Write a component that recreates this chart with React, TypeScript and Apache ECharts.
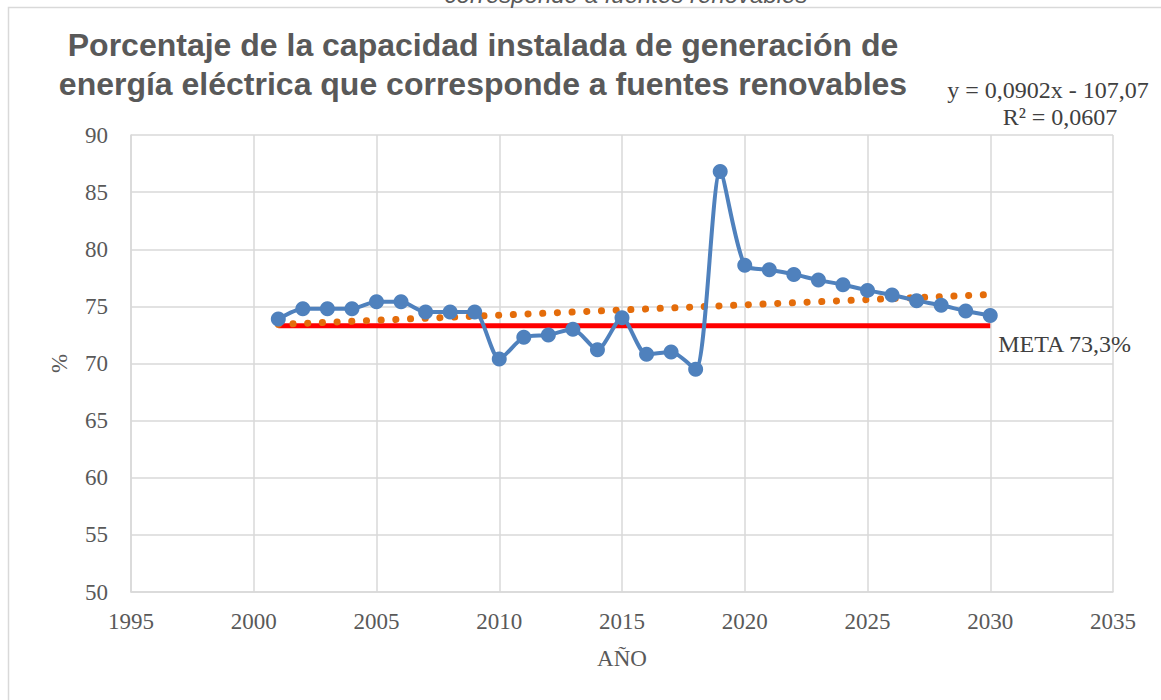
import React, { useEffect, useRef } from "react";
import * as echarts from "echarts";

const years = [2001, 2002, 2003, 2004, 2005, 2006, 2007, 2008, 2009, 2010, 2011, 2012, 2013, 2014, 2015, 2016, 2017, 2018, 2019, 2020, 2021, 2022, 2023, 2024, 2025, 2026, 2027, 2028, 2029, 2030];
const pct = [73.9, 74.8, 74.8, 74.8, 75.4, 75.4, 74.5, 74.5, 74.5, 70.4, 72.3, 72.5, 73.0, 71.2, 74.0, 70.8, 71.0, 69.5, 86.8, 78.6, 78.2, 77.8, 77.3, 76.9, 76.4, 76.0, 75.5, 75.1, 74.6, 74.2];
const trendYears = [2001, 2030];
const trendValues = [73.42, 76.04];
const metaYears = [2001, 2030];
const metaValue = 73.3;
const metaLabel = "META 73,3%";
const titleLines = ["Porcentaje de la capacidad instalada de generación de", "energía eléctrica que corresponde a fuentes renovables"];
const equationText = "y = 0,0902x - 107,07";
const r2Text = "R² = 0,0607";
const topCaption = "corresponde a fuentes renovables";
const xAxisName = "AÑO";
const yAxisName = "%";

const SERIF = '"Liberation Serif", "DejaVu Serif", serif';
const SANS = '"Liberation Sans", Arial, sans-serif';

export default function App() {
  const ref = useRef<HTMLDivElement>(null);
  useEffect(() => {
    document.body.style.margin = "0";
    const chart = echarts.init(ref.current!, null, { renderer: "svg" });
    const option: any = {
      animation: false,
      backgroundColor: "#ffffff",
      grid: { left: 131, right: 48, top: 135, bottom: 108, containLabel: false },
      xAxis: {
        type: "value",
        min: 1995,
        max: 2035,
        interval: 5,
        name: xAxisName,
        nameLocation: "middle",
        nameGap: 55,
        nameTextStyle: { fontFamily: SERIF, fontSize: 23, color: "#595959" },
        axisLine: { show: true, lineStyle: { color: "#d9d9d9", width: 1.5 } },
        axisTick: { show: false },
        axisLabel: { formatter: (v: number) => String(v), margin: 18, fontFamily: SERIF, fontSize: 23, color: "#595959" },
        splitLine: { show: true, lineStyle: { color: "#d9d9d9", width: 1.5 } },
      },
      yAxis: {
        type: "value",
        min: 50,
        max: 90,
        interval: 5,
        name: yAxisName,
        nameLocation: "middle",
        nameGap: 60,
        nameRotate: 90,
        nameTextStyle: { fontFamily: SERIF, fontSize: 23, color: "#595959" },
        axisLine: { show: true, lineStyle: { color: "#d9d9d9", width: 1.5 } },
        axisTick: { show: false },
        axisLabel: { margin: 23, fontFamily: SERIF, fontSize: 23, color: "#595959" },
        splitLine: { show: true, lineStyle: { color: "#d9d9d9", width: 1.5 } },
      },
      series: [
        {
          type: "line",
          name: "META",
          data: metaYears.map((y) => [y, metaValue]),
          symbol: "none",
          lineStyle: { color: "#ff0000", width: 5 },
          endLabel: { show: true, formatter: metaLabel, distance: 8, offset: [0, 18], fontFamily: SERIF, fontSize: 24, color: "#404040" },
          z: 2,
        },
        {
          type: "line",
          name: "Tendencia",
          data: trendYears.map((y, i) => [y, trendValues[i]]),
          symbol: "none",
          lineStyle: { color: "#e46c0a", width: 7, type: [0.1, 14.6], cap: "round" },
          z: 3,
        },
        {
          type: "line",
          name: "Porcentaje",
          data: years.map((y, i) => [y, pct[i]]),
          smooth: 0.25,
          symbol: "circle",
          symbolSize: 15,
          itemStyle: { color: "#4f81bd" },
          lineStyle: { color: "#4f81bd", width: 4 },
          z: 4,
        },
      ],
      graphic: [
        { type: "rect", shape: { x: 8.5, y: 7.5, width: 1300, height: 800 }, style: { fill: "none", stroke: "#d9d9d9", lineWidth: 1.5 }, silent: true, z: -1 },
        { type: "text", style: { text: topCaption, x: 626, y: 6, textAlign: "center", verticalAlign: "bottom", font: 'italic 24px ' + SANS, fill: "#595959" } },
        { type: "text", style: { text: titleLines.join("\n"), x: 483, y: 25, textAlign: "center", font: 'bold 32px ' + SANS, lineHeight: 39, fill: "#595959" } },
        { type: "text", style: { text: equationText, x: 1048, y: 90, textAlign: "center", verticalAlign: "middle", font: '24px ' + SERIF, fill: "#404040" } },
        { type: "text", style: { text: r2Text, x: 1060, y: 117, textAlign: "center", verticalAlign: "middle", font: '24px ' + SERIF, fill: "#404040" } },
      ],
    };
    chart.setOption(option);
    return () => chart.dispose();
  }, []);
  return <div ref={ref} style={{ width: 1161, height: 700, position: "absolute", left: 0, top: 0 }} />;
}
